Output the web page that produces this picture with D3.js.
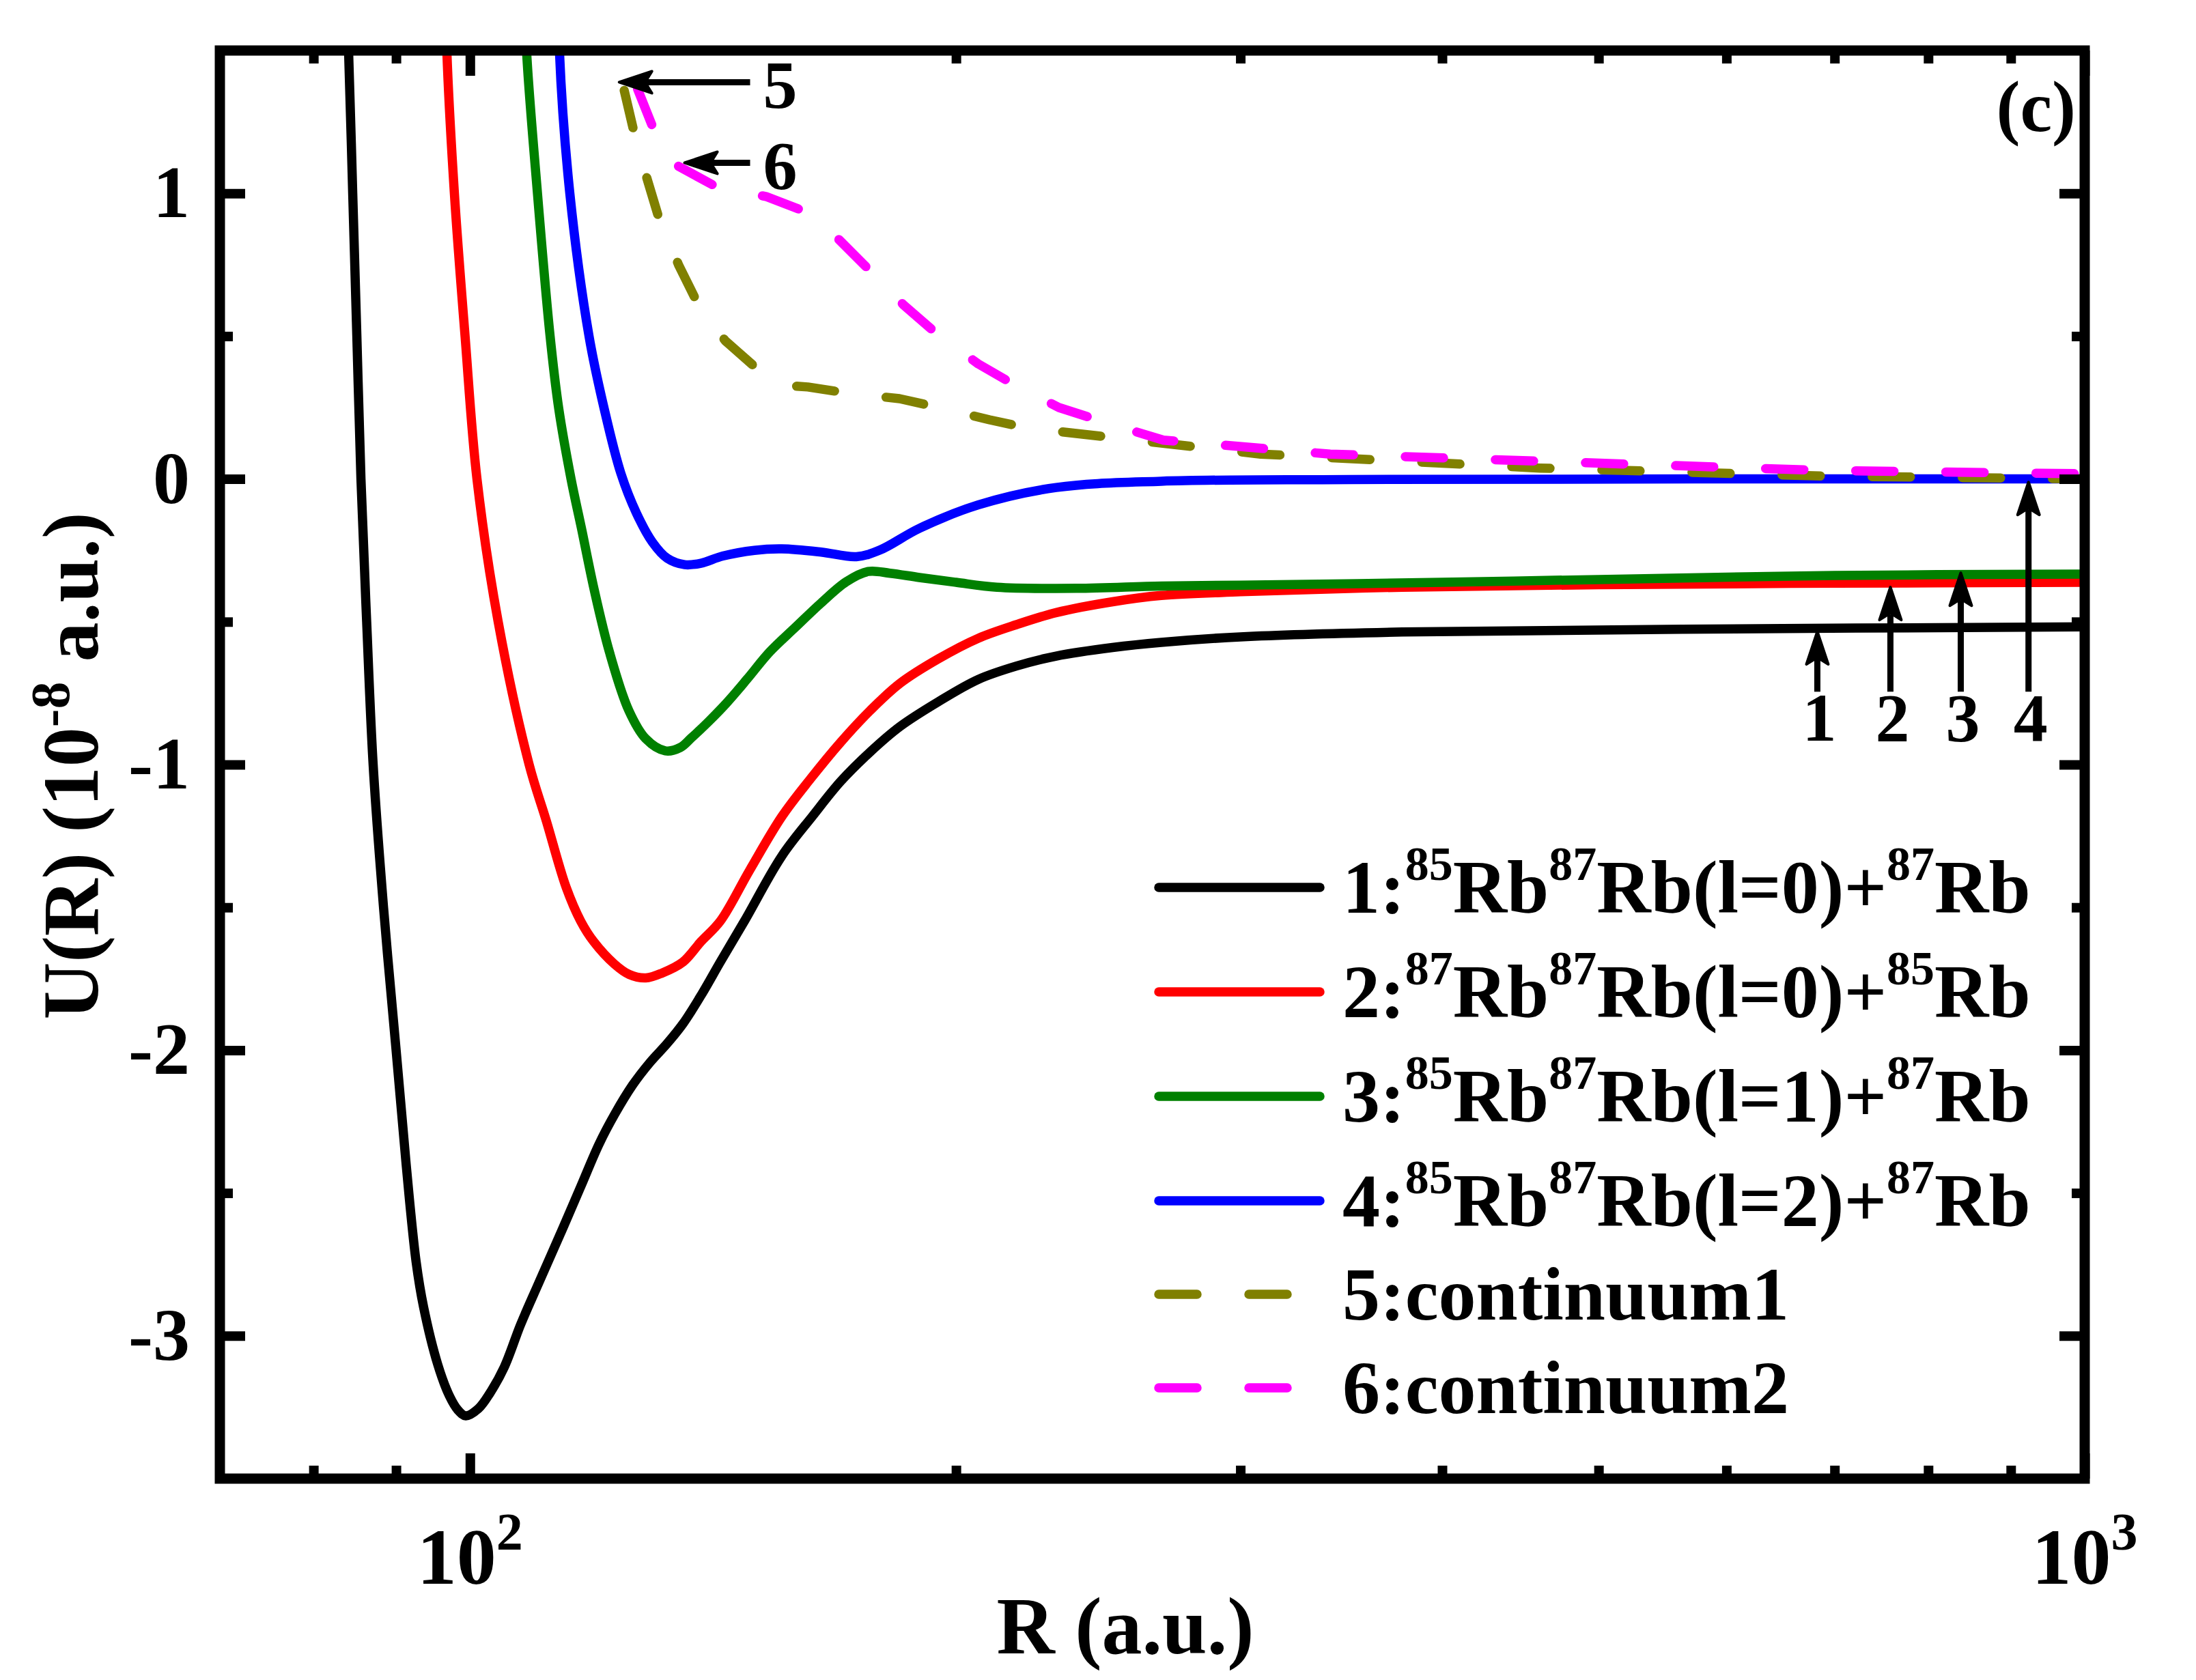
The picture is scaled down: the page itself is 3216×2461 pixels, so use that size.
<!DOCTYPE html>
<html>
<head>
<meta charset="utf-8">
<script src="https://cdnjs.cloudflare.com/ajax/libs/d3/7.8.5/d3.min.js"></script>
<style>
  body { margin: 0; background: #fff; }
  svg text { font-family: "Liberation Serif", "Times New Roman", serif; font-weight: bold; white-space: pre; }
</style>
</head>
<body>
<div id="chart"></div>
<script>
// R in a.u., U(R) in 1e-8 a.u.
var r1 = [83.8, 84.1, 84.6, 85.1, 85.6, 86.3, 87.1, 88.4, 90.0, 91.3, 92.6, 93.6, 95.5, 97.1, 98.3, 99.4, 101.2, 102.9, 105.0, 107.5, 110.3, 114.2, 117.1, 120.2, 122.9, 126.1, 129.3, 132.4, 135.5, 139.2, 142.9, 147.9, 156.0, 163.0, 169.7, 177.0, 184.6, 195.0, 206.4, 218.0, 230.7, 250.0, 268.0, 300.0, 378.0, 563.0, 1000.0];
var u1 = [1.7, 1.5, 1.0, 0.5, 0.0, -0.5, -1.0, -1.5, -2.0, -2.4, -2.74, -2.9, -3.1, -3.21, -3.26, -3.28, -3.255, -3.20, -3.11, -2.96, -2.815, -2.621, -2.478, -2.329, -2.225, -2.122, -2.042, -1.978, -1.907, -1.803, -1.691, -1.548, -1.32, -1.18, -1.058, -0.955, -0.867, -0.78, -0.702, -0.655, -0.62, -0.59, -0.572, -0.553, -0.536, -0.526, -0.518];

var r2 = [96.6, 96.75, 97.8, 99.3, 101.0, 104.1, 108.8, 111.5, 114.7, 117.1, 119.3, 122.9, 125.5, 128.5, 131.5, 135.5, 139.0, 142.9, 149.0, 156.0, 162.5, 169.7, 177.0, 184.6, 195.0, 206.4, 218.0, 230.7, 250.0, 268.0, 300.0, 378.0, 500.0, 700.0, 1000.0];
var u2 = [1.7, 1.5, 1.0, 0.5, 0.0, -0.5, -1.0, -1.197, -1.43, -1.548, -1.62, -1.699, -1.735, -1.747, -1.73, -1.691, -1.62, -1.548, -1.37, -1.182, -1.05, -0.921, -0.81, -0.716, -0.63, -0.558, -0.51, -0.468, -0.43, -0.408, -0.395, -0.379, -0.370, -0.365, -0.362];

var r3 = [108.2, 108.4, 110.1, 112.1, 113.5, 115.5, 117.2, 119.4, 122.0, 125.4, 128.5, 132.1, 135.0, 137.1, 140.5, 144.2, 148.5, 153.3, 159.0, 165.0, 171.0, 176.4, 182.0, 189.8, 200.0, 212.0, 237.5, 268.0, 300.0, 400.0, 500.0, 700.0, 1000.0];
var u3 = [1.7, 1.5, 1.0, 0.5, 0.245, 0.0, -0.17, -0.39, -0.606, -0.81, -0.91, -0.952, -0.94, -0.907, -0.85, -0.784, -0.70, -0.606, -0.52, -0.434, -0.36, -0.324, -0.33, -0.345, -0.362, -0.379, -0.383, -0.375, -0.372, -0.362, -0.352, -0.338, -0.333];

var r4 = [113.5, 113.6, 115.3, 118.5, 121.1, 124.0, 126.8, 129.7, 132.5, 135.8, 139.0, 143.4, 150.0, 156.0, 165.0, 173.5, 179.4, 189.8, 206.4, 230.7, 268.0, 350.0, 1000.0];
var u4 = [1.7, 1.5, 1.0, 0.5, 0.245, 0.02, -0.12, -0.221, -0.278, -0.30, -0.295, -0.27, -0.25, -0.245, -0.256, -0.272, -0.249, -0.173, -0.091, -0.03, -0.008, -0.002, 0.0];

var r5 = [124.6, 126.4, 128.8, 131.0, 134.7, 138.2, 143.9, 150.7, 154.5, 161.9, 171.7, 184.5, 195.2, 209.8, 221.6, 308.8, 460.0, 690.0, 1000.0];
var u5 = [1.36, 1.21, 1.046, 0.908, 0.747, 0.62, 0.484, 0.384, 0.33, 0.322, 0.30, 0.281, 0.25, 0.207, 0.178, 0.087, 0.038, 0.01, 0.0];

var r6 = [127.0, 130.0, 132.2, 134.5, 142.6, 152.5, 161.0, 163.0, 169.3, 176.6, 185.5, 194.5, 206.4, 217.3, 231.6, 250.0, 268.8, 341.0, 460.0, 687.0, 1000.0];
var u6 = [1.365, 1.221, 1.12, 1.096, 1.018, 0.989, 0.938, 0.928, 0.837, 0.733, 0.61, 0.509, 0.403, 0.33, 0.25, 0.19, 0.136, 0.087, 0.062, 0.03, 0.018];

var seriesLabels = [
  "1:^{85}Rb^{87}Rb(l=0)+^{87}Rb",
  "2:^{87}Rb^{87}Rb(l=0)+^{85}Rb",
  "3:^{85}Rb^{87}Rb(l=1)+^{87}Rb",
  "4:^{85}Rb^{87}Rb(l=2)+^{87}Rb",
  "5:continuum1",
  "6:continuum2"
];

// tick values
var xMajorTicks = [100, 1000];
var xMinorTicks = [80, 90, 200, 300, 400, 500, 600, 700, 800, 900];
var xTickExponents = ["2", "3"];
var yMajorTicks = [-3, -2, -1, 0, 1];
var yMinorTicks = [-2.5, -1.5, -0.5, 0.5];

// arrows pointing to the thresholds 1-4 and to curves 5, 6
var thresholdArrowR = [683, 758, 838, 923];
var thresholdArrowTipU = [-0.534, -0.379, -0.329, -0.011];
var thresholdArrowBaseU = -0.745;
var thresholdLabels = ["1", "2", "3", "4"];
var curveArrowTipR = [123.7, 135.8];
var curveArrowTailR = [149.1, 149.1];
var curveArrowU = [1.389, 1.107];
var curveArrowLabels = ["5", "6"];

var colors = ["#000000", "#ff0000", "#008000", "#0000ff", "#808000", "#ff00ff"];
var dashed = [false, false, false, false, true, true];

function drawChart() {
  var width = 3216, height = 2461;
  // plot box (note: "top" is a reserved global in browsers)
  var pLeft = 322, pRight = 3053, pTop = 74, pBottom = 2166;

  var svg = d3.select("#chart").append("svg")
    .attr("width", width)
    .attr("height", height)
    .style("background", "#fff");

  var x = d3.scaleLog().domain([70, 1000]).range([pLeft, pRight]);
  var y = d3.scaleLinear().domain([-3.5, 1.5]).range([pBottom, pTop]);

  svg.append("clipPath").attr("id", "plotClip")
    .append("rect")
    .attr("x", pLeft).attr("y", pTop)
    .attr("width", pRight - pLeft).attr("height", pBottom - pTop);

  // curves
  var allR = [r1, r2, r3, r4, r5, r6];
  var allU = [u1, u2, u3, u4, u5, u6];

  var smoothLine = d3.line()
    .x(function (d) { return x(d[0]); })
    .y(function (d) { return y(d[1]); })
    .curve(d3.curveCatmullRom.alpha(0.5));

  var straightLine = d3.line()
    .x(function (d) { return x(d[0]); })
    .y(function (d) { return y(d[1]); });

  var curves = svg.append("g").attr("clip-path", "url(#plotClip)");

  allR.forEach(function (rs, i) {
    var pts = rs.map(function (r, j) { return [r, allU[i][j]]; });
    curves.append("path")
      .attr("d", dashed[i] ? straightLine(pts) : smoothLine(pts))
      .attr("fill", "none")
      .attr("stroke", colors[i])
      .attr("stroke-width", 13.5)
      .attr("stroke-linecap", dashed[i] ? "round" : "butt")
      .attr("stroke-linejoin", "round")
      .attr("stroke-dasharray", dashed[i] ? "56,76" : null);
  });

  // ticks on all four sides, pointing inward
  function tickAxis(axisFn, scale, values, size, transform) {
    var g = svg.append("g").attr("transform", transform)
      .call(axisFn(scale).tickValues(values).tickSize(-size).tickFormat(""));
    g.select(".domain").remove();
    g.selectAll("text").remove();
    g.selectAll("line").attr("stroke", "#000").attr("stroke-width", 14);
  }

  tickAxis(d3.axisBottom, x, xMajorTicks, 37, "translate(0," + pBottom + ")");
  tickAxis(d3.axisBottom, x, xMinorTicks, 19, "translate(0," + pBottom + ")");
  tickAxis(d3.axisTop, x, xMajorTicks, 37, "translate(0," + pTop + ")");
  tickAxis(d3.axisTop, x, xMinorTicks, 19, "translate(0," + pTop + ")");
  tickAxis(d3.axisLeft, y, yMajorTicks, 37, "translate(" + pLeft + ",0)");
  tickAxis(d3.axisLeft, y, yMinorTicks, 19, "translate(" + pLeft + ",0)");
  tickAxis(d3.axisRight, y, yMajorTicks, 37, "translate(" + pRight + ",0)");
  tickAxis(d3.axisRight, y, yMinorTicks, 19, "translate(" + pRight + ",0)");

  // frame
  svg.append("rect")
    .attr("x", pLeft).attr("y", pTop)
    .attr("width", pRight - pLeft).attr("height", pBottom - pTop)
    .attr("fill", "none")
    .attr("stroke", "#000")
    .attr("stroke-width", 15);

  // text with ^{..} superscripts
  function richText(sel, str, supSize, raise) {
    var parts = str.split(/(\^\{[^}]*\})/);
    var cur = 0;
    parts.forEach(function (p) {
      if (!p) return;
      var isSup = p.charAt(0) === "^";
      var target = isSup ? -raise : 0;
      sel.append("tspan")
        .attr("dy", target - cur)
        .attr("font-size", isSup ? supSize : null)
        .text(isSup ? p.slice(2, -1) : p);
      cur = target;
    });
    return sel;
  }

  // y tick labels
  var yLabels = svg.append("g")
    .attr("transform", "translate(" + pLeft + ",0)")
    .call(d3.axisLeft(y).tickValues(yMajorTicks).tickSize(0).tickPadding(44)
      .tickFormat(function (d) { return String(d); }));
  yLabels.select(".domain").remove();
  yLabels.selectAll("line").remove();
  yLabels.attr("font-family", null).attr("font-size", null);
  yLabels.selectAll("text")
    .attr("font-size", 108)
    .attr("fill", "#000")
    .attr("dy", "0.32em");

  // x tick labels (powers of ten)
  xMajorTicks.forEach(function (v, i) {
    var t = svg.append("text")
      .attr("x", x(v))
      .attr("y", 2320)
      .attr("text-anchor", "middle")
      .attr("font-size", 116);
    richText(t, "10^{" + xTickExponents[i] + "}", 78, 50);
  });

  // axis titles
  richText(svg.append("text")
    .attr("x", 1648).attr("y", 2422)
    .attr("text-anchor", "middle")
    .attr("font-size", 118), "R (a.u.)", 80, 45);

  richText(svg.append("text")
    .attr("transform", "translate(143,1122) rotate(-90)")
    .attr("text-anchor", "middle")
    .attr("font-size", 116), "U(R) (10^{-8} a.u.)", 80, 42);

  // panel label
  svg.append("text")
    .attr("x", 3040).attr("y", 192)
    .attr("text-anchor", "end")
    .attr("font-size", 105)
    .text("(c)");

  // arrows
  function arrow(x1, y1, x2, y2) {
    var a = Math.atan2(y2 - y1, x2 - x1);
    var dx = Math.cos(a), dy = Math.sin(a);
    var L = 48, w = 16;
    svg.append("line")
      .attr("x1", x1).attr("y1", y1)
      .attr("x2", x2 - (L - 8) * dx).attr("y2", y2 - (L - 8) * dy)
      .attr("stroke", "#000").attr("stroke-width", 9);
    var pts = [
      [x2, y2],
      [x2 - L * dx - w * dy, y2 - L * dy + w * dx],
      [x2 - (L - 10) * dx, y2 - (L - 10) * dy],
      [x2 - L * dx + w * dy, y2 - L * dy - w * dx]
    ];
    svg.append("path")
      .attr("d", "M" + pts.join("L") + "Z")
      .attr("fill", "#000")
      .attr("stroke", "#000")
      .attr("stroke-width", 4)
      .attr("stroke-linejoin", "round");
  }

  thresholdArrowR.forEach(function (r, i) {
    arrow(x(r), y(thresholdArrowBaseU), x(r), y(thresholdArrowTipU[i]));
    svg.append("text")
      .attr("x", x(r) + 3)
      .attr("y", y(thresholdArrowBaseU) + 72)
      .attr("text-anchor", "middle")
      .attr("font-size", 100)
      .text(thresholdLabels[i]);
  });

  curveArrowTipR.forEach(function (r, i) {
    arrow(x(curveArrowTailR[i]), y(curveArrowU[i]), x(r), y(curveArrowU[i]));
    svg.append("text")
      .attr("x", x(curveArrowTailR[i]) + 44)
      .attr("y", y(curveArrowU[i]) + 38)
      .attr("text-anchor", "middle")
      .attr("font-size", 100)
      .text(curveArrowLabels[i]);
  });

  // legend
  var legend = svg.append("g");
  var rowY = 1337;
  seriesLabels.forEach(function (label, i) {
    if (i > 0) rowY += label.indexOf("^") >= 0 ? 153 : 137;
    legend.append("line")
      .attr("x1", 1697).attr("x2", 1933)
      .attr("y1", rowY - 37).attr("y2", rowY - 37)
      .attr("stroke", colors[i])
      .attr("stroke-width", 13.5)
      .attr("stroke-linecap", "round")
      .attr("stroke-dasharray", dashed[i] ? "56,76" : null);
    richText(legend.append("text")
      .attr("x", 1966).attr("y", rowY)
      .attr("font-size", 110), label, 70, 48);
  });
}

drawChart();
</script>
</body>
</html>
